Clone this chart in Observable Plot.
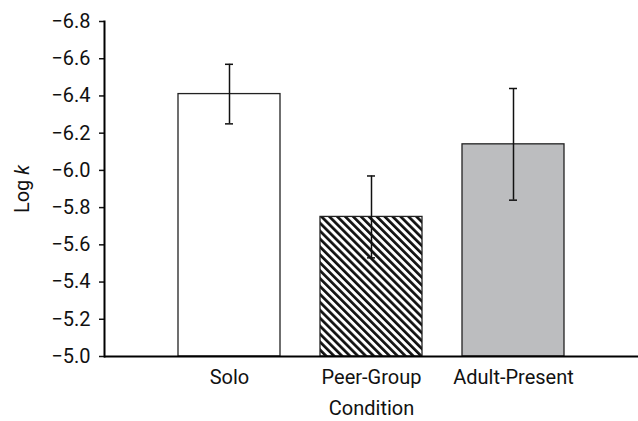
<!DOCTYPE html>
<html><head><meta charset="utf-8">
<script src="https://cdn.jsdelivr.net/npm/d3@7"></script>
<script src="https://cdn.jsdelivr.net/npm/@observablehq/plot@0.6"></script>
<style>body{margin:0;background:#fff} svg{display:block}</style>
</head><body><div id="chart"></div>
<script>
const conditions = ["Solo", "Peer-Group", "Adult-Present"];
const logK = [-6.41, -5.75, -6.14];
const errors = [0.16, 0.22, 0.30];
const yTicks = [-5.0, -5.2, -5.4, -5.6, -5.8, -6.0, -6.2, -6.4, -6.6, -6.8];

const data = conditions.map((c, i) => ({condition: c, value: logK[i], err: errors[i]}));

const chart = Plot.plot({
  width: 638, height: 421,
  marginTop: 21, marginBottom: 65, marginLeft: 104, marginRight: 0,
  style: {fontFamily: "Roboto, 'Liberation Sans', sans-serif", fontSize: "20px", color: "#111", background: "white"},
  x: {domain: conditions, paddingInner: 0.28, paddingOuter: 0.52, align: 0.5},
  y: {domain: [-5, -6.8]},
  color: {domain: conditions, range: ["white", "url(#hatch)", "#bcbdbf"]},
  marks: [
    Plot.barY(data, {x: "condition", y1: -5, y2: "value", fill: "condition", stroke: "#222", strokeWidth: 1.3}),
    Plot.ruleX(data, {x: "condition", y1: d => d.value - d.err, y2: d => d.value + d.err, stroke: "#111", strokeWidth: 1.5}),
    Plot.tickY(data, {x: "condition", y: d => d.value - d.err, insetLeft: 47, insetRight: 47, stroke: "#111", strokeWidth: 1.5}),
    Plot.tickY(data, {x: "condition", y: d => d.value + d.err, insetLeft: 47, insetRight: 47, stroke: "#111", strokeWidth: 1.5}),
    Plot.axisY({ticks: yTicks, tickFormat: d3.format(".1f"), tickSize: 5, tickPadding: 9, strokeWidth: 1.5,
      label: "Log k", labelAnchor: "center", labelOffset: 90, labelArrow: "none", fontSize: 20}),
    Plot.axisX({tickSize: 0, tickPadding: 13, label: "Condition", labelAnchor: "center", labelOffset: 58, labelArrow: "none", fontSize: 20}),
    Plot.ruleY([-5], {stroke: "black", strokeWidth: 2}),
    Plot.frame({anchor: "left", stroke: "black", strokeWidth: 2})
  ]
});

chart.insertAdjacentHTML("afterbegin",
  '<defs><pattern id="hatch" patternUnits="userSpaceOnUse" width="5.6" height="5.6" patternTransform="rotate(-45)">' +
  '<rect x="0" y="0" width="5.6" height="5.6" fill="white"/>' +
  '<rect x="0" y="0" width="2.7" height="5.6" fill="#111"/></pattern></defs>');

chart.querySelectorAll("text").forEach(t => {
  if (t.textContent.trim() === "Log k") {
    t.innerHTML = 'Log <tspan font-style="italic">k</tspan>';
  }
});

document.getElementById("chart").appendChild(chart);
</script>
</body></html>
